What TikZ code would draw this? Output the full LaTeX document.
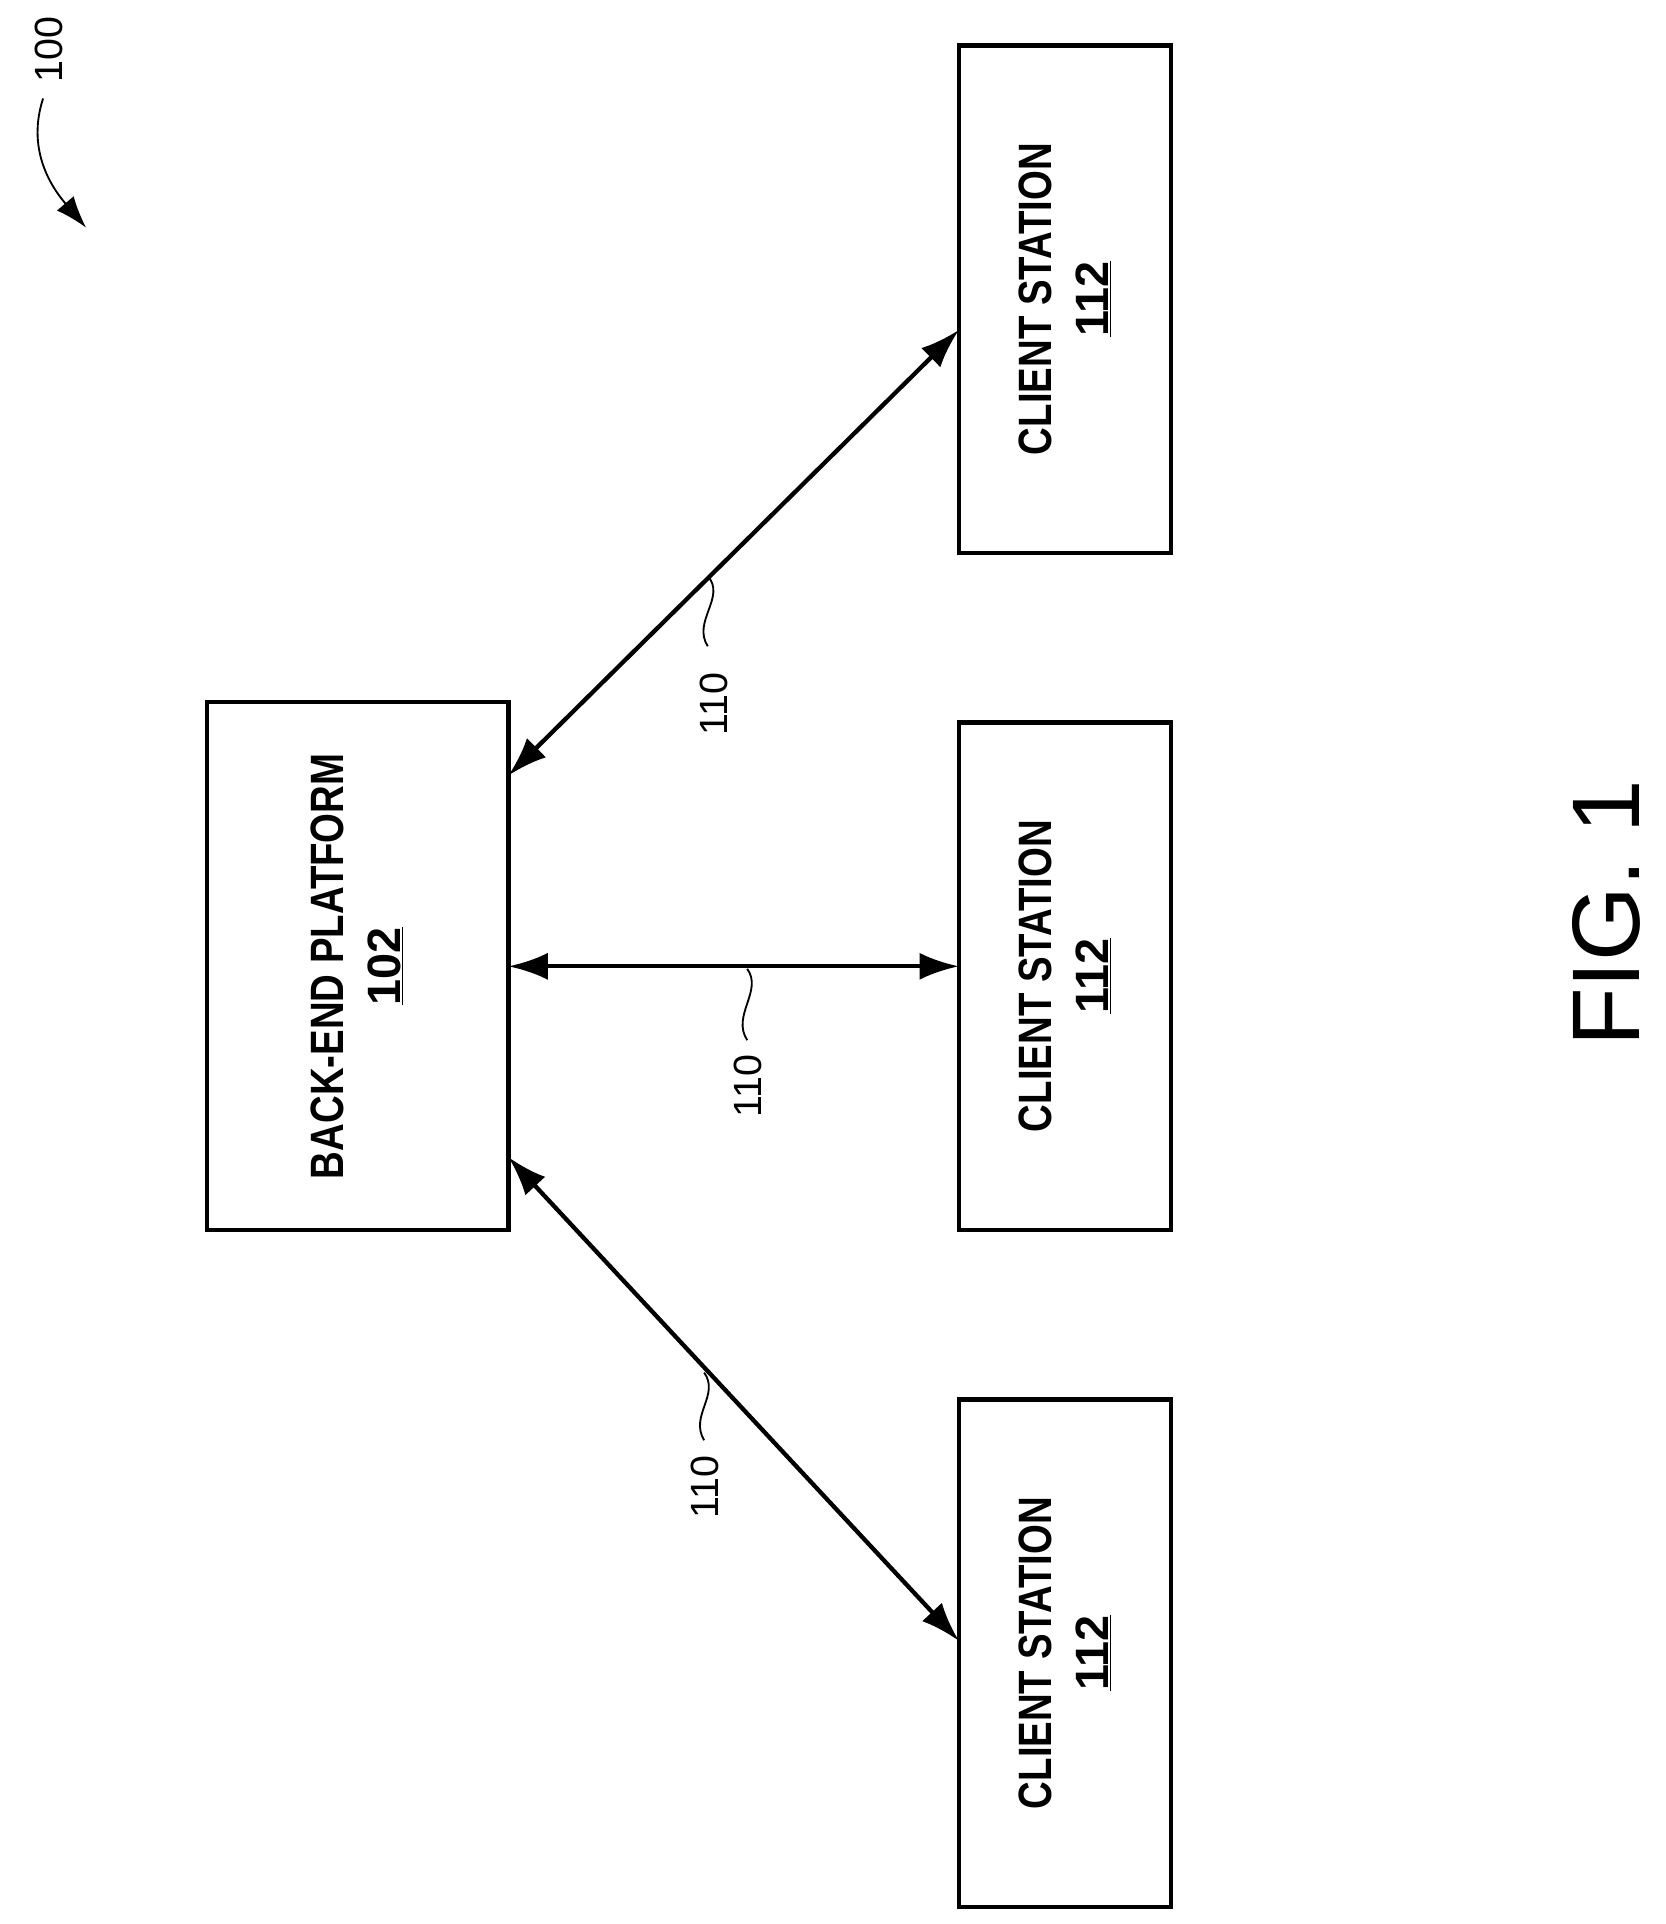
\documentclass[tikz,border=0pt]{standalone}
\usepackage{fontspec}
\setmainfont{Liberation Sans}
\usetikzlibrary{arrows.meta}
\begin{document}
\begin{tikzpicture}[x=1pt,y=-1pt,
 box/.style={draw,line width=3.5pt},
 lbl/.style={rotate=90,font=\fontsize{38}{38}\selectfont\bfseries,align=center,inner sep=0},
 ref/.style={rotate=90,font=\fontsize{32}{32}\selectfont,inner sep=0},
 conn/.style={line width=3.5pt,{Latex[length=32pt,width=22pt]}-{Latex[length=32pt,width=22pt]}},
 lead/.style={line width=1.5pt}]
\useasboundingbox (0,0) rectangle (1353,1563);
\draw[box] (779,37) rectangle (951,449);
\draw[box] (779,587) rectangle (951,999);
\draw[box] (779,1137) rectangle (951,1549);
\draw[box] (168,570) rectangle (413,999);
\node[lbl] (c1) at (865,243) {\scalebox{0.82}[1]{CLIENT STATION}\\[8pt]\underline{112}};
\node[lbl] (c2) at (865,793) {\scalebox{0.82}[1]{CLIENT STATION}\\[8pt]\underline{112}};
\node[lbl] (c3) at (865,1343) {\scalebox{0.82}[1]{CLIENT STATION}\\[8pt]\underline{112}};
\node[lbl] (b) at (290,785) {\scalebox{0.82}[1]{BACK-END PLATFORM}\\[8pt]\underline{102}};
\coordinate (bt) at (413,630); \coordinate (t1) at (779,268);
\coordinate (bm) at (413,785); \coordinate (t2) at (779,785);
\coordinate (bb) at (413,940); \coordinate (t3) at (779,1333);
\draw[conn] (bt) -- (t1);
\draw[conn] (bm) -- (t2);
\draw[conn] (bb) -- (t3);
\coordinate (p1) at (575,468); \coordinate (q1) at (575,525);
\draw[lead] (p1) .. controls (590,485) and (562,505) .. (q1);
\node[ref] (r1) at (580,572) {110};
\coordinate (p2) at (607,787); \coordinate (q2) at (607,845);
\draw[lead] (p2) .. controls (620,805) and (594,825) .. (q2);
\node[ref] (r2) at (608,882) {110};
\coordinate (p3) at (572,1115); \coordinate (q3) at (572,1170);
\draw[lead] (p3) .. controls (585,1133) and (560,1150) .. (q3);
\node[ref] (r3) at (573,1208) {110};
\node[rotate=90,font=\fontsize{78}{78}\selectfont,inner sep=0] (fig) at (1305,742) {FIG. 1};
\node[ref] (n100) at (40,40) {100};
\coordinate (a100) at (70,185);
\draw[line width=1.5pt,-{Latex[length=26pt,width=18pt]}] (35,80) .. controls (22,120) and (40,150) .. (a100);
\end{tikzpicture}
\end{document}
